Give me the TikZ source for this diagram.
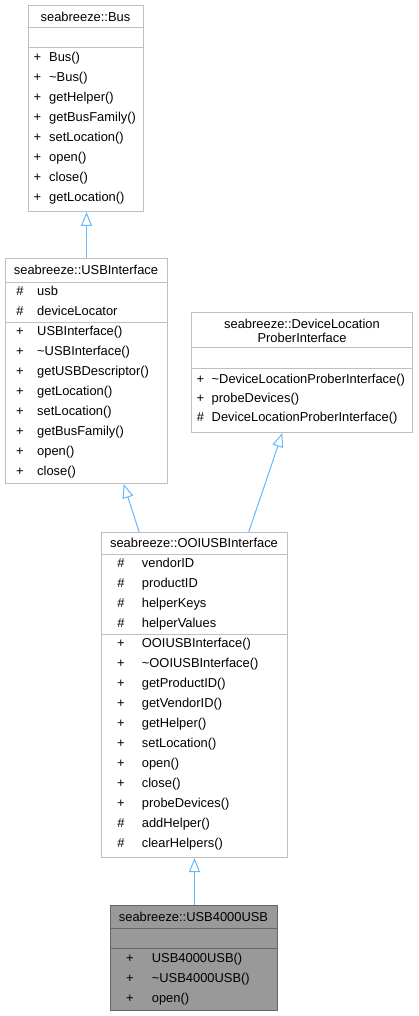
\documentclass[tikz,border=0pt]{standalone}
\usepackage{fontspec}
\setmainfont{Liberation Sans}
\usetikzlibrary{arrows.meta,calc}
\definecolor{bordergray}{HTML}{BFBFBF}
\definecolor{darkborder}{HTML}{666666}
\definecolor{hlfill}{HTML}{999999}
\definecolor{edgeblue}{HTML}{63B8FF}
\tikzset{
  box/.style={draw=bordergray, fill=white, line width=1pt, inner sep=0pt, anchor=north west},
  hlbox/.style={box, draw=darkborder, fill=hlfill},
  sepline/.style={draw=bordergray, line width=1pt},
  hlsep/.style={draw=darkborder, line width=1pt},
  txt/.style={font=\fontsize{12.9}{15}\selectfont, inner sep=0pt, anchor=base west},
  ttl/.style={txt, anchor=base},
  sgn/.style={txt, anchor=base},
  inh/.style={draw=edgeblue, line width=1pt, -{Triangle[open, length=14pt, width=11pt]}},
}
\begin{document}
\begin{tikzpicture}[x=1pt,y=-1pt]
\useasboundingbox (0,0) rectangle (418,1016);

% ---------------- Bus ----------------
\node[box, minimum width=115pt, minimum height=206pt] (bus) at (28,5) {};
\draw[sepline] (28,28) -- (143,28);
\draw[sepline] (28,48) -- (143,48);
\node[ttl] (bus-title) at (85.5,21.1) {seabreeze::Bus};
\foreach \s/\t [count=\i from 0] in {+/Bus(), +/\textasciitilde{}Bus(), +/getHelper(), +/getBusFamily(), +/setLocation(), +/open(), +/close(), +/getLocation()} {
  \node[sgn] (bus-s\i) at (37.5,{61.6+20*\i}) {\s};
  \node[txt] (bus-t\i) at (49,{61.6+20*\i}) {\t};
}

% ---------------- USBInterface ----------------
\node[box, minimum width=162pt, minimum height=225pt] (usbif) at (5,258) {};
\draw[sepline] (5,282) -- (167,282);
\draw[sepline] (5,322) -- (167,322);
\node[ttl] (usbif-title) at (86,274.6) {seabreeze::USBInterface};
\foreach \s/\t [count=\i from 0] in {\#/usb, \#/deviceLocator} {
  \node[sgn] (usbif-as\i) at (20,{295.6+20*\i}) {\s};
  \node[txt] (usbif-at\i) at (37,{295.6+20*\i}) {\t};
}
\foreach \s/\t [count=\i from 0] in {+/USBInterface(), +/\textasciitilde{}USBInterface(), +/getUSBDescriptor(), +/getLocation(), +/setLocation(), +/getBusFamily(), +/open(), +/close()} {
  \node[sgn] (usbif-s\i) at (20,{335.6+20*\i}) {\s};
  \node[txt] (usbif-t\i) at (37,{335.6+20*\i}) {\t};
}

% ---------------- DeviceLocationProberInterface ----------------
\node[box, minimum width=221pt, minimum height=120.5pt] (dlp) at (191.3,311.5) {};
\draw[sepline] (191.3,347.5) -- (412.3,347.5);
\draw[sepline] (191.3,368) -- (412.3,368);
\node[ttl] (dlp-title1) at (302,328.6) {seabreeze::DeviceLocation};
\node[ttl] (dlp-title2) at (302,342.8) {ProberInterface};
\foreach \s/\t [count=\i from 0] in {+/\textasciitilde{}DeviceLocationProberInterface(), +/probeDevices(), \#/DeviceLocationProberInterface()} {
  \node[sgn] (dlp-s\i) at (200.5,{383.2+19.3*\i}) {\s};
  \node[txt] (dlp-t\i) at (211.5,{383.2+19.3*\i}) {\t};
}

% ---------------- OOIUSBInterface ----------------
\node[box, minimum width=186pt, minimum height=325pt] (ooi) at (101,532) {};
\draw[sepline] (101,554) -- (287,554);
\draw[sepline] (101,634) -- (287,634);
\node[ttl] (ooi-title) at (194,547.6) {seabreeze::OOIUSBInterface};
\foreach \s/\t [count=\i from 0] in {\#/vendorID, \#/productID, \#/helperKeys, \#/helperValues} {
  \node[sgn] (ooi-as\i) at (121,{567.6+20*\i}) {\s};
  \node[txt] (ooi-at\i) at (141.7,{567.6+20*\i}) {\t};
}
\foreach \s/\t [count=\i from 0] in {+/OOIUSBInterface(), +/\textasciitilde{}OOIUSBInterface(), +/getProductID(), +/getVendorID(), +/getHelper(), +/setLocation(), +/open(), +/close(), +/probeDevices(), \#/addHelper(), \#/clearHelpers()} {
  \node[sgn] (ooi-s\i) at (121,{647.6+20*\i}) {\s};
  \node[txt] (ooi-t\i) at (141.7,{647.6+20*\i}) {\t};
}

% ---------------- USB4000USB ----------------
\node[hlbox, minimum width=167pt, minimum height=105pt] (usb4k) at (110,905) {};
\draw[hlsep] (110,928) -- (277,928);
\draw[hlsep] (110,948) -- (277,948);
\node[ttl] (usb4k-title) at (193.5,921.1) {seabreeze::USB4000USB};
\foreach \s/\t [count=\i from 0] in {+/USB4000USB(), +/\textasciitilde{}USB4000USB(), +/open()} {
  \node[sgn] (usb4k-s\i) at (130,{962.6+20*\i}) {\s};
  \node[txt] (usb4k-t\i) at (151.7,{962.6+20*\i}) {\t};
}

% ---------------- inheritance edges ----------------
\draw[inh] (usbif.north) -- (usbif.north |- bus.south);
\draw[inh] ($(ooi.north west)!0.204!(ooi.north east)$) -- ($(usbif.south west)!0.728!(usbif.south east)$);
\draw[inh] ($(ooi.north west)!0.79!(ooi.north east)$) -- ($(dlp.south west)!0.41!(dlp.south east)$);
\draw[inh] (usb4k.north -| ooi.south) -- (ooi.south);
\end{tikzpicture}
\end{document}
